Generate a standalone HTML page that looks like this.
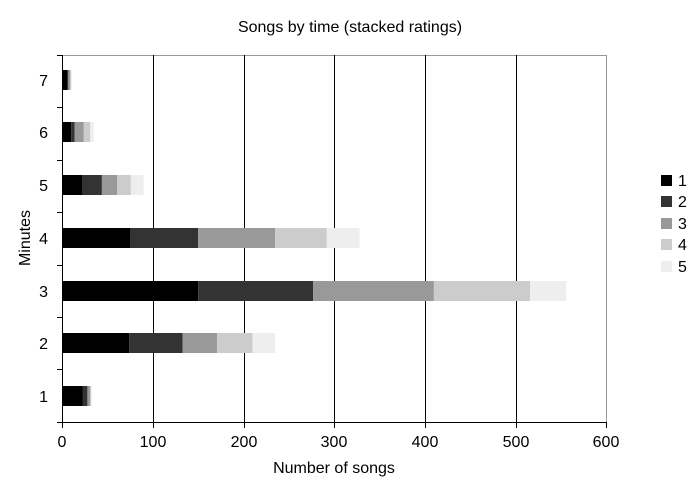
<!DOCTYPE html>
<html><head><style>body{margin:0;background:#fff}</style></head><body>
<svg width="700" height="496" xmlns="http://www.w3.org/2000/svg" font-family="Liberation Sans, Arial, sans-serif" font-size="16">
<rect width="700" height="496" fill="#fff"/>
<text x="350" y="32" text-anchor="middle">Songs by time (stacked ratings)</text>
<line x1="62" y1="55.5" x2="606" y2="55.5" stroke="#999"/>
<line x1="606.5" y1="55" x2="606.5" y2="422" stroke="#999"/>
<g stroke="#000" stroke-width="1">
<line x1="153.5" y1="55" x2="153.5" y2="422"/>
<line x1="244.5" y1="55" x2="244.5" y2="422"/>
<line x1="334.5" y1="55" x2="334.5" y2="422"/>
<line x1="425.5" y1="55" x2="425.5" y2="422"/>
<line x1="516.5" y1="55" x2="516.5" y2="422"/>
</g>
<g>
<rect x="62" y="70" width="5" height="20" fill="#000"/><rect x="67" y="70" width="1.3" height="20" fill="#333"/><rect x="68.3" y="70" width="1.9" height="20" fill="#999"/><rect x="70.2" y="70" width="0.9" height="20" fill="#ccc"/><rect x="71.1" y="70" width="0.9" height="20" fill="#eee"/>
<rect x="62" y="122" width="9.1" height="20" fill="#000"/><rect x="71.1" y="122" width="3.6" height="20" fill="#333"/><rect x="74.7" y="122" width="9.1" height="20" fill="#999"/><rect x="83.8" y="122" width="6.3" height="20" fill="#ccc"/><rect x="90.1" y="122" width="3.6" height="20" fill="#eee"/>
<rect x="62" y="175" width="20" height="20" fill="#000"/><rect x="82" y="175" width="19.9" height="20" fill="#333"/><rect x="101.9" y="175" width="15.4" height="20" fill="#999"/><rect x="117.3" y="175" width="13.6" height="20" fill="#ccc"/><rect x="130.9" y="175" width="12.7" height="20" fill="#eee"/>
<rect x="62" y="228" width="68" height="20" fill="#000"/><rect x="130" y="228" width="68.1" height="20" fill="#333"/><rect x="198.1" y="228" width="77" height="20" fill="#999"/><rect x="275.1" y="228" width="51.7" height="20" fill="#ccc"/><rect x="326.8" y="228" width="32.7" height="20" fill="#eee"/>
<rect x="62" y="281" width="136.1" height="20" fill="#000"/><rect x="198.1" y="281" width="115.1" height="20" fill="#333"/><rect x="313.2" y="281" width="120.7" height="20" fill="#999"/><rect x="433.9" y="281" width="96.1" height="20" fill="#ccc"/><rect x="530" y="281" width="36.3" height="20" fill="#eee"/>
<rect x="62" y="333" width="67.1" height="20" fill="#000"/><rect x="129.1" y="333" width="53.5" height="20" fill="#333"/><rect x="182.6" y="333" width="34.5" height="20" fill="#999"/><rect x="217.1" y="333" width="35.4" height="20" fill="#ccc"/><rect x="252.5" y="333" width="22.6" height="20" fill="#eee"/>
<rect x="62" y="386" width="20.9" height="20" fill="#000"/><rect x="82.9" y="386" width="4.5" height="20" fill="#333"/><rect x="87.4" y="386" width="2.7" height="20" fill="#999"/><rect x="90.1" y="386" width="0.9" height="20" fill="#ccc"/><rect x="91" y="386" width="0.9" height="20" fill="#eee"/>
</g>
<g stroke="#000">
<line x1="62.5" y1="55" x2="62.5" y2="422"/>
<line x1="62" y1="422.5" x2="606" y2="422.5"/>
<line x1="57" y1="55.5" x2="62" y2="55.5"/>
<line x1="57" y1="107.5" x2="62" y2="107.5"/>
<line x1="57" y1="160.5" x2="62" y2="160.5"/>
<line x1="57" y1="212.5" x2="62" y2="212.5"/>
<line x1="57" y1="265.5" x2="62" y2="265.5"/>
<line x1="57" y1="317.5" x2="62" y2="317.5"/>
<line x1="57" y1="369.5" x2="62" y2="369.5"/>
<line x1="57" y1="422.5" x2="62" y2="422.5"/>
<line x1="62.5" y1="422" x2="62.5" y2="428"/>
<line x1="153.5" y1="422" x2="153.5" y2="428"/>
<line x1="244.5" y1="422" x2="244.5" y2="428"/>
<line x1="334.5" y1="422" x2="334.5" y2="428"/>
<line x1="425.5" y1="422" x2="425.5" y2="428"/>
<line x1="516.5" y1="422" x2="516.5" y2="428"/>
<line x1="606.5" y1="422" x2="606.5" y2="428"/>
</g>
<g text-anchor="middle">
<text x="62" y="447">0</text><text x="153" y="447">100</text><text x="244" y="447">200</text>
<text x="334" y="447">300</text><text x="425" y="447">400</text><text x="516" y="447">500</text><text x="606" y="447">600</text>
</g>
<g text-anchor="end">
<text x="48" y="86">7</text><text x="48" y="138">6</text><text x="48" y="191">5</text>
<text x="48" y="244">4</text><text x="48" y="297">3</text><text x="48" y="349">2</text><text x="48" y="402">1</text>
</g>
<text x="334" y="473" text-anchor="middle">Number of songs</text>
<text transform="translate(30,238) rotate(-90)" text-anchor="middle">Minutes</text>
<g>
<rect x="661" y="175" width="11" height="11" fill="#000"/><text x="678" y="186">1</text>
<rect x="661" y="196" width="11" height="11" fill="#333"/><text x="678" y="207">2</text>
<rect x="661" y="218" width="11" height="11" fill="#999"/><text x="678" y="229">3</text>
<rect x="661" y="239" width="11" height="11" fill="#ccc"/><text x="678" y="250">4</text>
<rect x="661" y="261" width="11" height="11" fill="#eee"/><text x="678" y="272">5</text>
</g>
</svg>
</body></html>
